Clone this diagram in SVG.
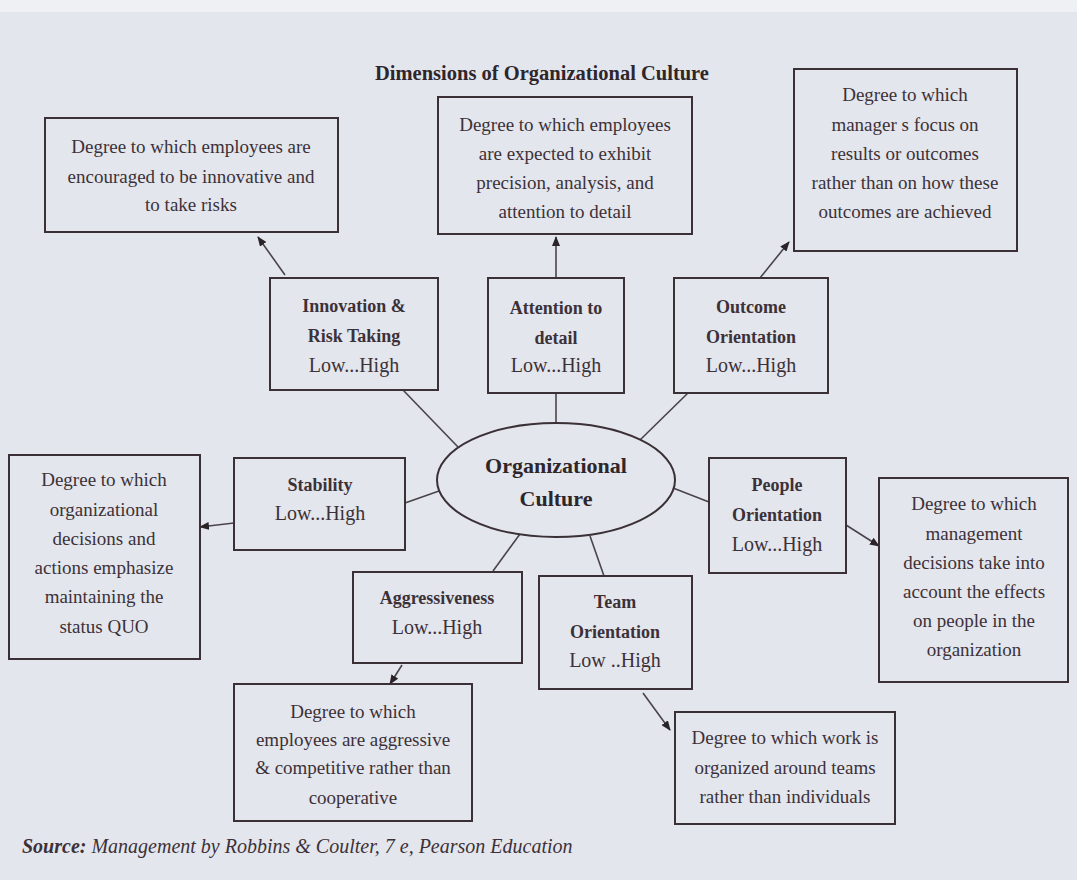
<svg xmlns="http://www.w3.org/2000/svg" width="1077" height="880" viewBox="0 0 1077 880">
<defs>
<style>
.bg{fill:#e3e6ed}
.box{fill:none;stroke:#3a3036;stroke-width:2}
.t{font-family:"Liberation Serif","Times New Roman",serif;font-size:19px;fill:#3d3138;text-anchor:middle}
.b{font-weight:bold;font-size:18px}
.lh{font-size:20px}
.title{font-family:"Liberation Serif","Times New Roman",serif;font-size:20.5px;font-weight:bold;fill:#2f262c;text-anchor:middle}
.oc{font-family:"Liberation Serif","Times New Roman",serif;font-size:22px;font-weight:bold;fill:#2f262c;text-anchor:middle}
.src{font-family:"Liberation Serif","Times New Roman",serif;font-size:20px;font-style:italic;fill:#3d3138}
.ln{stroke:#4a444a;stroke-width:1.6;fill:none}
.ar{stroke:#4a444a;stroke-width:1.6;fill:none;marker-end:url(#ah)}
</style>
<marker id="ah" markerWidth="10" markerHeight="8" refX="9" refY="4" orient="auto" markerUnits="userSpaceOnUse">
<path d="M0,0 L10,4 L0,8 Z" fill="#2a2428"/>
</marker>
</defs>
<rect class="bg" x="0" y="0" width="1077" height="880"/>
<rect x="0" y="0" width="1077" height="12" fill="#eef0f4"/>
<text class="title" x="542" y="80">Dimensions of Organizational Culture</text>

<g id="connectors">
<line class="ar" x1="285" y1="275" x2="258" y2="237"/>
<line class="ar" x1="556" y1="278" x2="556" y2="237"/>
<line class="ar" x1="760" y1="278" x2="789" y2="242"/>
<line class="ar" x1="234" y1="523" x2="200" y2="527"/>
<line class="ar" x1="402" y1="665" x2="390" y2="684"/>
<line class="ar" x1="643" y1="693" x2="670" y2="730"/>
<line class="ar" x1="846" y1="525" x2="879" y2="546"/>
<line class="ln" x1="403" y1="390" x2="458" y2="447"/>
<line class="ln" x1="556" y1="393" x2="556" y2="423"/>
<line class="ln" x1="688" y1="393" x2="640" y2="440"/>
<line class="ln" x1="405" y1="503" x2="439" y2="491"/>
<line class="ln" x1="493" y1="571" x2="520" y2="534"/>
<line class="ln" x1="590" y1="536" x2="604" y2="576"/>
<line class="ln" x1="673" y1="488" x2="709" y2="502"/>
</g>

<g id="center">
<ellipse cx="556" cy="480" rx="119" ry="57" fill="none" stroke="#3a3036" stroke-width="2"/>
<text class="oc" x="556" y="473">Organizational</text>
<text class="oc" x="556" y="506">Culture</text>
</g>

<g id="innovation-desc">
<rect class="box" x="45" y="118" width="293" height="114"/>
<text class="t" x="191" y="153">Degree to which employees are</text>
<text class="t" x="191" y="183">encouraged to be innovative and</text>
<text class="t" x="191" y="211">to take risks</text>
</g>
<g id="innovation">
<rect class="box" x="270" y="278" width="168" height="112"/>
<text class="t b" x="354" y="312">Innovation &amp;</text>
<text class="t b" x="354" y="342">Risk Taking</text>
<text class="t lh" x="354" y="372">Low...High</text>
</g>

<g id="attention-desc">
<rect class="box" x="438" y="97" width="254" height="137"/>
<text class="t" x="565" y="131">Degree to which employees</text>
<text class="t" x="565" y="160">are expected to exhibit</text>
<text class="t" x="565" y="189">precision, analysis, and</text>
<text class="t" x="565" y="218">attention to detail</text>
</g>
<g id="attention">
<rect class="box" x="488" y="278" width="136" height="115"/>
<text class="t b" x="556" y="314">Attention to</text>
<text class="t b" x="556" y="344">detail</text>
<text class="t lh" x="556" y="372">Low...High</text>
</g>

<g id="outcome-desc">
<rect class="box" x="794" y="69" width="223" height="182"/>
<text class="t" x="905" y="101">Degree to which</text>
<text class="t" x="905" y="131">manager s focus on</text>
<text class="t" x="905" y="160">results or outcomes</text>
<text class="t" x="905" y="189">rather than on how these</text>
<text class="t" x="905" y="218">outcomes are achieved</text>
</g>
<g id="outcome">
<rect class="box" x="674" y="278" width="154" height="115"/>
<text class="t b" x="751" y="313">Outcome</text>
<text class="t b" x="751" y="343">Orientation</text>
<text class="t lh" x="751" y="372">Low...High</text>
</g>

<g id="stability-desc">
<rect class="box" x="9" y="455" width="191" height="204"/>
<text class="t" x="104" y="486">Degree to which</text>
<text class="t" x="104" y="516">organizational</text>
<text class="t" x="104" y="545">decisions and</text>
<text class="t" x="104" y="574">actions emphasize</text>
<text class="t" x="104" y="603">maintaining the</text>
<text class="t" x="104" y="633">status QUO</text>
</g>
<g id="stability">
<rect class="box" x="234" y="458" width="171" height="92"/>
<text class="t b" x="320" y="491">Stability</text>
<text class="t lh" x="320" y="520">Low...High</text>
</g>

<g id="people">
<rect class="box" x="709" y="458" width="137" height="115"/>
<text class="t b" x="777" y="491">People</text>
<text class="t b" x="777" y="521">Orientation</text>
<text class="t lh" x="777" y="551">Low...High</text>
</g>
<g id="people-desc">
<rect class="box" x="879" y="478" width="189" height="204"/>
<text class="t" x="974" y="510">Degree to which</text>
<text class="t" x="974" y="540">management</text>
<text class="t" x="974" y="569">decisions take into</text>
<text class="t" x="974" y="598">account the effects</text>
<text class="t" x="974" y="627">on people in the</text>
<text class="t" x="974" y="656">organization</text>
</g>

<g id="aggressiveness">
<rect class="box" x="353" y="572" width="169" height="91"/>
<text class="t b" x="437" y="604">Aggressiveness</text>
<text class="t lh" x="437" y="634">Low...High</text>
</g>
<g id="aggressiveness-desc">
<rect class="box" x="234" y="684" width="238" height="137"/>
<text class="t" x="353" y="718">Degree to which</text>
<text class="t" x="353" y="746">employees are aggressive</text>
<text class="t" x="353" y="774">&amp; competitive rather than</text>
<text class="t" x="353" y="804">cooperative</text>
</g>

<g id="team">
<rect class="box" x="539" y="576" width="153" height="113"/>
<text class="t b" x="615" y="608">Team</text>
<text class="t b" x="615" y="638">Orientation</text>
<text class="t lh" x="615" y="667">Low ..High</text>
</g>
<g id="team-desc">
<rect class="box" x="675" y="712" width="220" height="112"/>
<text class="t" x="785" y="744">Degree to which work is</text>
<text class="t" x="785" y="774">organized around teams</text>
<text class="t" x="785" y="803">rather than individuals</text>
</g>

<text class="src" x="22" y="853"><tspan font-weight="bold">Source:</tspan> Management by Robbins &amp; Coulter, 7 e, Pearson Education</text>
</svg>
